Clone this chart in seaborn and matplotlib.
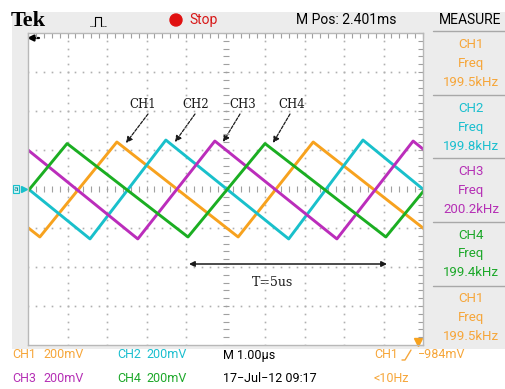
import numpy as np
import pandas as pd
import matplotlib
matplotlib.use('Agg')
import matplotlib.pyplot as plt
import seaborn as sns
from matplotlib.patches import Rectangle, Circle

# ---------------- data ----------------
# time in divisions (1 div = 1.00 us), voltage in mV (200 mV/div)
channels = ['CH1', 'CH2', 'CH3', 'CH4']
ch1_t = [-2.76, 0.30, 2.25, 5.32, 7.22, 10.29]
ch1_v = [241, -246, 241, -246, 241, -246]
ch2_t = [-1.52, 1.57, 3.49, 6.60, 8.48, 11.54]
ch2_v = [251, -256, 251, -256, 251, -256]
ch3_t = [-0.28, 2.78, 4.73, 7.82, 9.75, 12.81]
ch3_v = [246, -256, 246, -256, 246, -256]
ch4_t = [-0.96, 0.99, 4.05, 6.00, 9.06, 11.00]
ch4_v = [-246, 233, -246, 233, -246, 233]

meas_channels = ['CH1', 'CH2', 'CH3', 'CH4', 'CH1']
meas_values = ['199.5kHz', '199.8kHz', '200.2kHz', '199.4kHz', '199.5kHz']

trace_colors = {'CH1': '#F7A21E', 'CH2': '#19C0CB', 'CH3': '#BB2DBB', 'CH4': '#1BAE22'}
text_colors = {'CH1': '#F6A63A', 'CH2': '#1BBFCF', 'CH3': '#B530B5', 'CH4': '#1DA82A'}

frames = []
for ch, t, v in zip(channels, [ch1_t, ch2_t, ch3_t, ch4_t], [ch1_v, ch2_v, ch3_v, ch4_v]):
    frames.append(pd.DataFrame({'t': t, 'v': v, 'ch': ch}))
df = pd.concat(frames, ignore_index=True)

sns.set_style('white')
plt.rcParams['font.family'] = ['Roboto', 'DejaVu Sans']

W, H = 505, 389
fig = plt.figure(figsize=(W / 100, H / 100), dpi=100)

# background canvas in pixel coordinates
bg = fig.add_axes([0, 0, 1, 1])
bg.set_xlim(0, W)
bg.set_ylim(H, 0)
bg.axis('off')

GL, GR, GT, GB = 28, 423, 33, 345
bg.add_patch(Rectangle((12, 12), W - 12, 337, facecolor='#ECECEC', edgecolor='none'))
bg.add_patch(Rectangle((GL, GT), GR - GL, GB - GT, facecolor='white', edgecolor='none'))

# ---------------- header ----------------
hy = 20
bg.text(11, hy + 1, 'Tek', fontsize=16, fontweight='bold', family='Liberation Serif',
        ha='left', va='center', color='black')
bg.plot([90, 95], [26, 26], color='black', lw=0.7, ls=(0, (1, 1)))
bg.plot([95, 95, 101, 101], [26, 17, 17, 26], color='black', lw=0.8)
bg.plot([101, 106], [26, 26], color='black', lw=0.7, ls=(0, (1, 1)))
bg.add_patch(Circle((176, hy), 6, color='#E01010'))
bg.text(189, hy, 'Stop', fontsize=10, color='#D81818', ha='left', va='center')
bg.text(296, hy, 'M Pos: 2.401ms', fontsize=10, color='black', ha='left', va='center')
bg.text(470, hy, 'MEASURE', fontsize=10, color='black', ha='center', va='center')

# ---------------- measure panel ----------------
for ysep in [31, 95, 158, 222, 286]:
    bg.plot([433, W], [ysep, ysep], color='#A8A8A8', lw=1)
centers = [63, 127, 190, 254, 317]
for yc, ch, val in zip(centers, meas_channels, meas_values):
    c = text_colors[ch]
    bg.text(471, yc - 19, ch, fontsize=9.5, color=c, ha='center', va='center')
    bg.text(471, yc, 'Freq', fontsize=9.5, color=c, ha='center', va='center')
    bg.text(471, yc + 19, val, fontsize=9.5, color=c, ha='center', va='center')

# ---------------- bottom status ----------------
r1, r2 = 355, 378
fs = 9
bg.text(12, r1, 'CH1', fontsize=fs, color=text_colors['CH1'], ha='left', va='center')
bg.text(43, r1, '200mV', fontsize=fs, color=text_colors['CH1'], ha='left', va='center')
bg.text(117, r1, 'CH2', fontsize=fs, color=text_colors['CH2'], ha='left', va='center')
bg.text(146, r1, '200mV', fontsize=fs, color=text_colors['CH2'], ha='left', va='center')
bg.text(223, r1, 'M 1.00\u00b5s', fontsize=fs, color='black', ha='left', va='center')
bg.text(374, r1, 'CH1', fontsize=fs, color=text_colors['CH1'], ha='left', va='center')
bg.plot([402, 405, 411], [360, 360, 350], color=text_colors['CH1'], lw=1)
bg.text(418, r1, '\u2212984mV', fontsize=fs, color=text_colors['CH1'], ha='left', va='center')
bg.text(12, r2, 'CH3', fontsize=fs, color=text_colors['CH3'], ha='left', va='center')
bg.text(43, r2, '200mV', fontsize=fs, color=text_colors['CH3'], ha='left', va='center')
bg.text(117, r2, 'CH4', fontsize=fs, color=text_colors['CH4'], ha='left', va='center')
bg.text(146, r2, '200mV', fontsize=fs, color=text_colors['CH4'], ha='left', va='center')
bg.text(223, r2, '17\u2212Jul\u221212 09:17', fontsize=fs, color='black', ha='left', va='center')
bg.text(374, r2, '<10Hz', fontsize=fs, color=text_colors['CH1'], ha='left', va='center')

# ---------------- side markers ----------------
bg.annotate('', xy=(27, 38), xytext=(39, 38),
            arrowprops=dict(arrowstyle='-|>', color='black', lw=1.6, mutation_scale=9,
                            shrinkA=0, shrinkB=0))
bg.text(16, 189, 'a', fontsize=6, color='#158A94', ha='center', va='center',
        bbox=dict(boxstyle='square,pad=0.1', fc='#CFF3F5', ec='#19C0CB', lw=0.8))
bg.plot([24], [189], marker='>', ms=5, color='#19C0CB', ls='none')
bg.plot([418], [342], marker='v', ms=6, color='#F7A21E', ls='none')

# ---------------- annotations ----------------
lab_font = dict(family='DejaVu Serif', fontsize=8.5, color='#1a1a1a', ha='center', va='center')
for lab, (tx, ty), (ax_, ay_), (hx, hy_) in [
        ('CH1', (143, 104), (148, 114), (126, 143)),
        ('CH2', (196, 104), (195, 114), (175, 142)),
        ('CH3', (243, 104), (240, 114), (223, 142)),
        ('CH4', (292, 104), (290, 114), (273, 143))]:
    bg.text(tx, ty, lab, **lab_font)
    bg.annotate('', xy=(hx, hy_), xytext=(ax_, ay_),
                arrowprops=dict(arrowstyle='-|>', color='#1a1a1a', lw=0.9,
                                ls=(0, (2.5, 1.2)), mutation_scale=9,
                                shrinkA=0, shrinkB=0))

bg.annotate('', xy=(189, 264), xytext=(387, 264),
            arrowprops=dict(arrowstyle='<|-|>', color='#1a1a1a', lw=1.1,
                            mutation_scale=8, shrinkA=0, shrinkB=0))
bg.text(272, 283, 'T=5us', family='DejaVu Serif', fontsize=9, color='#1a1a1a',
        ha='center', va='center')

# ---------------- graticule axes ----------------
ax = fig.add_axes([GL / W, 1 - GB / H, (GR - GL) / W, (GB - GT) / H])
ax.patch.set_alpha(0)
ax.set_xlim(0, 10)
ax.set_ylim(-800, 800)
for s in ax.spines.values():
    s.set_color('#B8B8B8')
    s.set_linewidth(1)
ax.set_xticks(np.arange(0, 10.001, 0.2))
ax.set_yticks(np.arange(-800, 800.1, 40))
ax.tick_params(which='both', direction='in', length=3.5, width=0.8, color='#A0A0A0',
               top=True, right=True, labelbottom=False, labelleft=False)

dot_c = '#B0B0B0'
xs = np.arange(0, 10.001, 0.2)
ys = np.arange(-800, 800.1, 40)
for yv in [-600, -400, -200, 200, 400, 600]:
    ax.plot(xs, np.full_like(xs, yv), ls='none', marker='s', ms=1.2, mew=0, color=dot_c)
for xv in [1, 2, 3, 4, 6, 7, 8, 9]:
    ax.plot(np.full_like(ys, xv, dtype=float), ys, ls='none', marker='s', ms=1.2, mew=0, color=dot_c)
ax.plot(xs, np.zeros_like(xs), ls='none', marker='|', ms=4, mew=0.8, color='#A0A0A0')
ax.plot(np.full_like(ys, 5, dtype=float), ys, ls='none', marker='_', ms=4, mew=0.8, color='#A0A0A0')

sns.lineplot(data=df, x='t', y='v', hue='ch', palette=trace_colors, estimator=None,
             sort=False, legend=False, linewidth=2.1, ax=ax)
ax.set_xlim(0, 10)
ax.set_ylim(-800, 800)
ax.set_xlabel('')
ax.set_ylabel('')

fig.savefig('out.png', dpi=100)
